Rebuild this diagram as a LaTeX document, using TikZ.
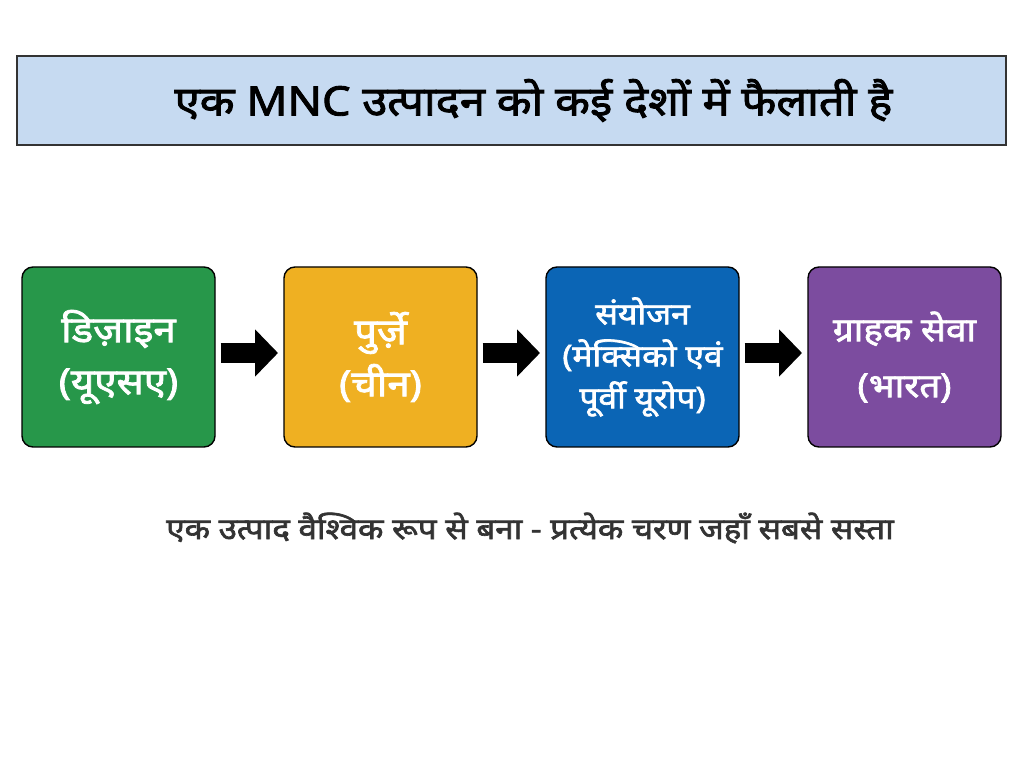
\documentclass[tikz,border=0pt]{standalone}
\usepackage{fontspec}
\setmainfont[Script=Devanagari, AutoFakeBold=2.2, FakeStretch=1.12]{Noto Sans}
\usetikzlibrary{positioning,arrows.meta}

\definecolor{titlefill}{HTML}{C6DAF1}
\definecolor{designgreen}{HTML}{27974A}
\definecolor{partsyellow}{HTML}{EFB022}
\definecolor{assemblyblue}{HTML}{0B65B5}
\definecolor{servicepurple}{HTML}{7C4C9F}
\definecolor{notegray}{HTML}{333333}

\begin{document}
\begin{tikzpicture}[
    x=1pt, y=1pt,
    node distance=67.6pt,
    font=\bfseries,
    text centered,
    stagebox/.style={
      rectangle,
      rounded corners=11pt,
      draw=black,
      line width=1.4pt,
      minimum width=193pt,
      minimum height=180pt,
      text=white,
      align=center,
      inner sep=0
    },
    flow/.style={
      line width=20pt,
      -{Triangle[length=23pt,width=46pt]},
      shorten <=5pt,
      shorten >=5.3pt
    }
  ]
  \useasboundingbox (0,0) rectangle (1024,768);

  \node [draw=black!80, line width=1.2pt, fill=titlefill,
    minimum width=989pt, minimum height=89pt] (title) at (511.5,667.5) {};
  \node at (title.center) [xshift=22pt, font=\fontsize{40.5}{44}\bfseries] (t1)
    {एक MNC उत्पादन को कई देशों में फैलाती है};

  \node [stagebox, fill=designgreen, font=\fontsize{36}{52}\bfseries] (A) at (118.5,411)
    {डिज़ाइन\\(यूएसए)};
  \node [stagebox, fill=partsyellow, font=\fontsize{36}{52}\bfseries] (B) [right=of A]
    {पुर्ज़े\\(चीन)};
  \node [stagebox, fill=assemblyblue, font=\fontsize{30}{42}\bfseries] (C) [right=of B]
    {संयोजन\\(मेक्सिको एवं\\पूर्वी यूरोप)};
  \node [stagebox, fill=servicepurple, font=\fontsize{33}{56}\bfseries] (D) [right=of C]
    {ग्राहक सेवा\\(भारत)};

  \draw [flow] ([yshift=4pt]A.east) -- ([yshift=4pt]B.west);
  \draw [flow] ([yshift=4pt]B.east) -- ([yshift=4pt]C.west);
  \draw [flow] ([yshift=4pt]C.east) -- ([yshift=4pt]D.west);

  \node at (530,240) [text=notegray, font=\fontsize{29.6}{32}\bfseries] (t2)
    {एक उत्पाद वैश्विक रूप से बना - प्रत्येक चरण जहाँ सबसे सस्ता};

\end{tikzpicture}
\end{document}
